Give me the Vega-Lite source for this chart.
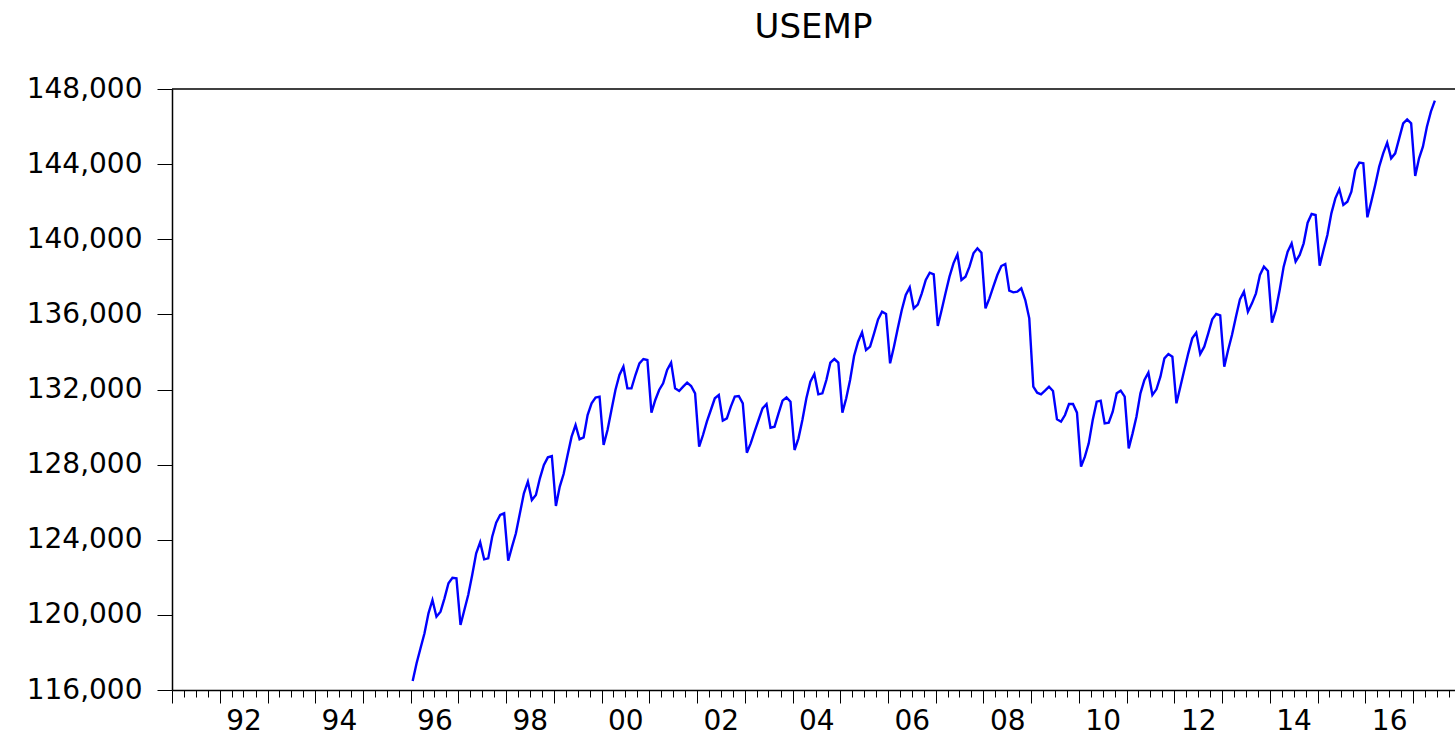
{
  "$schema": "https://vega.github.io/schema/vega-lite/v6.json",
  "width": 1283,
  "height": 601,
  "autosize": "none",
  "padding": {"top": 89, "left": 172, "right": 0, "bottom": 45},
  "background": "white",
  "title": {"text": "USEMP", "font": "DejaVu Sans", "fontSize": 34, "fontWeight": "normal", "color": "black", "anchor": "middle", "frame": "group", "baseline": "alphabetic", "offset": 3},
  "config": {
    "view": {"stroke": null},
    "axis": {"labelFont": "DejaVu Sans", "labelFontSize": 28, "labelColor": "black", "grid": false, "domainColor": "black", "tickColor": "black", "title": null}
  },
  "layer": [
    {
      "data": {"values": [
        {"d":"1996-01","v":116479},{"d":"1996-02","v":117421},{"d":"1996-03","v":118220},{"d":"1996-04","v":119019},{"d":"1996-05","v":120084},{"d":"1996-06","v":120792},{"d":"1996-07","v":119903},{"d":"1996-08","v":120169},{"d":"1996-09","v":120882},{"d":"1996-10","v":121681},{"d":"1996-11","v":121979},{"d":"1996-12","v":121947},
        {"d":"1997-01","v":119461},{"d":"1997-02","v":120260},{"d":"1997-03","v":121061},{"d":"1997-04","v":122123},{"d":"1997-05","v":123277},{"d":"1997-06","v":123863},{"d":"1997-07","v":122957},{"d":"1997-08","v":123010},{"d":"1997-09","v":124164},{"d":"1997-10","v":124910},{"d":"1997-11","v":125318},{"d":"1997-12","v":125407},
        {"d":"1998-01","v":122886},{"d":"1998-02","v":123632},{"d":"1998-03","v":124342},{"d":"1998-04","v":125407},{"d":"1998-05","v":126471},{"d":"1998-06","v":127093},{"d":"1998-07","v":126117},{"d":"1998-08","v":126382},{"d":"1998-09","v":127270},{"d":"1998-10","v":127980},{"d":"1998-11","v":128388},{"d":"1998-12","v":128459},
        {"d":"1999-01","v":125797},{"d":"1999-02","v":126830},{"d":"1999-03","v":127501},{"d":"1999-04","v":128512},{"d":"1999-05","v":129489},{"d":"1999-06","v":130110},{"d":"1999-07","v":129347},{"d":"1999-08","v":129453},{"d":"1999-09","v":130642},{"d":"1999-10","v":131263},{"d":"1999-11","v":131565},{"d":"1999-12","v":131618},
        {"d":"2000-01","v":129045},{"d":"2000-02","v":129843},{"d":"2000-03","v":130908},{"d":"2000-04","v":131973},{"d":"2000-05","v":132772},{"d":"2000-06","v":133216},{"d":"2000-07","v":132062},{"d":"2000-08","v":132062},{"d":"2000-09","v":132772},{"d":"2000-10","v":133393},{"d":"2000-11","v":133624},{"d":"2000-12","v":133571},
        {"d":"2001-01","v":130766},{"d":"2001-02","v":131441},{"d":"2001-03","v":131973},{"d":"2001-04","v":132328},{"d":"2001-05","v":133038},{"d":"2001-06","v":133429},{"d":"2001-07","v":132062},{"d":"2001-08","v":131920},{"d":"2001-09","v":132151},{"d":"2001-10","v":132364},{"d":"2001-11","v":132186},{"d":"2001-12","v":131796},
        {"d":"2002-01","v":128956},{"d":"2002-02","v":129577},{"d":"2002-03","v":130287},{"d":"2002-04","v":130908},{"d":"2002-05","v":131530},{"d":"2002-06","v":131707},{"d":"2002-07","v":130340},{"d":"2002-08","v":130465},{"d":"2002-09","v":131086},{"d":"2002-10","v":131618},{"d":"2002-11","v":131654},{"d":"2002-12","v":131263},
        {"d":"2003-01","v":128636},{"d":"2003-02","v":129133},{"d":"2003-03","v":129755},{"d":"2003-04","v":130376},{"d":"2003-05","v":130997},{"d":"2003-06","v":131228},{"d":"2003-07","v":129968},{"d":"2003-08","v":130021},{"d":"2003-09","v":130731},{"d":"2003-10","v":131405},{"d":"2003-11","v":131583},{"d":"2003-12","v":131352},
        {"d":"2004-01","v":128778},{"d":"2004-02","v":129400},{"d":"2004-03","v":130376},{"d":"2004-04","v":131530},{"d":"2004-05","v":132417},{"d":"2004-06","v":132825},{"d":"2004-07","v":131742},{"d":"2004-08","v":131796},{"d":"2004-09","v":132506},{"d":"2004-10","v":133429},{"d":"2004-11","v":133624},{"d":"2004-12","v":133429},
        {"d":"2005-01","v":130766},{"d":"2005-02","v":131530},{"d":"2005-03","v":132506},{"d":"2005-04","v":133784},{"d":"2005-05","v":134547},{"d":"2005-06","v":135044},{"d":"2005-07","v":134103},{"d":"2005-08","v":134280},{"d":"2005-09","v":134990},{"d":"2005-10","v":135736},{"d":"2005-11","v":136144},{"d":"2005-12","v":136020},
        {"d":"2006-01","v":133393},{"d":"2006-02","v":134280},{"d":"2006-03","v":135256},{"d":"2006-04","v":136233},{"d":"2006-05","v":137031},{"d":"2006-06","v":137440},{"d":"2006-07","v":136322},{"d":"2006-08","v":136520},{"d":"2006-09","v":137120},{"d":"2006-10","v":137830},{"d":"2006-11","v":138220},{"d":"2006-12","v":138131},
        {"d":"2007-01","v":135381},{"d":"2007-02","v":136232},{"d":"2007-03","v":137120},{"d":"2007-04","v":138007},{"d":"2007-05","v":138717},{"d":"2007-06","v":139196},{"d":"2007-07","v":137830},{"d":"2007-08","v":138007},{"d":"2007-09","v":138540},{"d":"2007-10","v":139250},{"d":"2007-11","v":139516},{"d":"2007-12","v":139285},
        {"d":"2008-01","v":136321},{"d":"2008-02","v":136854},{"d":"2008-03","v":137475},{"d":"2008-04","v":138096},{"d":"2008-05","v":138575},{"d":"2008-06","v":138682},{"d":"2008-07","v":137262},{"d":"2008-08","v":137173},{"d":"2008-09","v":137209},{"d":"2008-10","v":137386},{"d":"2008-11","v":136765},{"d":"2008-12","v":135789},
        {"d":"2009-01","v":132151},{"d":"2009-02","v":131831},{"d":"2009-03","v":131742},{"d":"2009-04","v":131937},{"d":"2009-05","v":132151},{"d":"2009-06","v":131920},{"d":"2009-07","v":130411},{"d":"2009-08","v":130287},{"d":"2009-09","v":130642},{"d":"2009-10","v":131228},{"d":"2009-11","v":131228},{"d":"2009-12","v":130766},
        {"d":"2010-01","v":127891},{"d":"2010-02","v":128424},{"d":"2010-03","v":129133},{"d":"2010-04","v":130376},{"d":"2010-05","v":131352},{"d":"2010-06","v":131405},{"d":"2010-07","v":130198},{"d":"2010-08","v":130234},{"d":"2010-09","v":130819},{"d":"2010-10","v":131796},{"d":"2010-11","v":131937},{"d":"2010-12","v":131618},
        {"d":"2011-01","v":128867},{"d":"2011-02","v":129665},{"d":"2011-03","v":130553},{"d":"2011-04","v":131796},{"d":"2011-05","v":132506},{"d":"2011-06","v":132896},{"d":"2011-07","v":131707},{"d":"2011-08","v":132009},{"d":"2011-09","v":132683},{"d":"2011-10","v":133659},{"d":"2011-11","v":133890},{"d":"2011-12","v":133748},
        {"d":"2012-01","v":131264},{"d":"2012-02","v":132151},{"d":"2012-03","v":133039},{"d":"2012-04","v":133926},{"d":"2012-05","v":134725},{"d":"2012-06","v":135027},{"d":"2012-07","v":133891},{"d":"2012-08","v":134281},{"d":"2012-09","v":134991},{"d":"2012-10","v":135736},{"d":"2012-11","v":136020},{"d":"2012-12","v":135949},
        {"d":"2013-01","v":133216},{"d":"2013-02","v":134103},{"d":"2013-03","v":134902},{"d":"2013-04","v":135878},{"d":"2013-05","v":136801},{"d":"2013-06","v":137209},{"d":"2013-07","v":136144},{"d":"2013-08","v":136588},{"d":"2013-09","v":137120},{"d":"2013-10","v":138097},{"d":"2013-11","v":138540},{"d":"2013-12","v":138310},
        {"d":"2014-01","v":135559},{"d":"2014-02","v":136233},{"d":"2014-03","v":137298},{"d":"2014-04","v":138540},{"d":"2014-05","v":139339},{"d":"2014-06","v":139783},{"d":"2014-07","v":138807},{"d":"2014-08","v":139162},{"d":"2014-09","v":139783},{"d":"2014-10","v":140883},{"d":"2014-11","v":141345},{"d":"2014-12","v":141292},
        {"d":"2015-01","v":138594},{"d":"2015-02","v":139428},{"d":"2015-03","v":140227},{"d":"2015-04","v":141380},{"d":"2015-05","v":142179},{"d":"2015-06","v":142658},{"d":"2015-07","v":141824},{"d":"2015-08","v":142002},{"d":"2015-09","v":142534},{"d":"2015-10","v":143687},{"d":"2015-11","v":144077},{"d":"2015-12","v":144042},
        {"d":"2016-01","v":141167},{"d":"2016-02","v":142002},{"d":"2016-03","v":142889},{"d":"2016-04","v":143865},{"d":"2016-05","v":144575},{"d":"2016-06","v":145143},{"d":"2016-07","v":144309},{"d":"2016-08","v":144575},{"d":"2016-09","v":145373},{"d":"2016-10","v":146172},{"d":"2016-11","v":146385},{"d":"2016-12","v":146172},
        {"d":"2017-01","v":143368},{"d":"2017-02","v":144309},{"d":"2017-03","v":144930},{"d":"2017-04","v":145995},{"d":"2017-05","v":146793},{"d":"2017-06","v":147379}
      ]},
      "mark": {"type": "line", "color": "#0000FF", "strokeWidth": 2.4},
      "encoding": {
        "x": {
          "field": "d", "type": "temporal", "timeUnit": "utcyearmonth", "bandPosition": 0.5,
          "scale": {"type": "utc", "domain": [{"year": 1991, "month": 1, "date": 1, "utc": true}, {"year": 2017, "month": 11, "date": 17, "utc": true}]},
          "axis": {
            "tickCount": {"interval": "month", "step": 3},
            "tickSize": {"condition": {"test": "utcmonth(datum.value) === 0", "value": 13}, "value": 7},
            "tickWidth": 1,
            "domainWidth": 1.5,
            "labelExpr": "utcmonth(datum.value) === 6 && utcyear(datum.value) % 2 === 0 ? utcFormat(datum.value, '%y') : ''",
            "labelOverlap": false,
            "labelFlush": false,
            "labelPadding": 10
          }
        },
        "y": {
          "field": "v", "type": "quantitative",
          "scale": {"domain": [116000, 148000], "zero": false, "nice": false},
          "axis": {
            "values": [116000, 120000, 124000, 128000, 132000, 136000, 140000, 144000, 148000],
            "format": ",d",
            "tickSize": 15,
            "tickWidth": 1,
            "domainWidth": 1.5,
            "labelPadding": 15
          }
        }
      }
    },
    {
      "data": {"values": [{}]},
      "mark": {"type": "rule", "color": "black", "strokeWidth": 1.5},
      "encoding": {"y": {"datum": 148000}}
    }
  ]
}
